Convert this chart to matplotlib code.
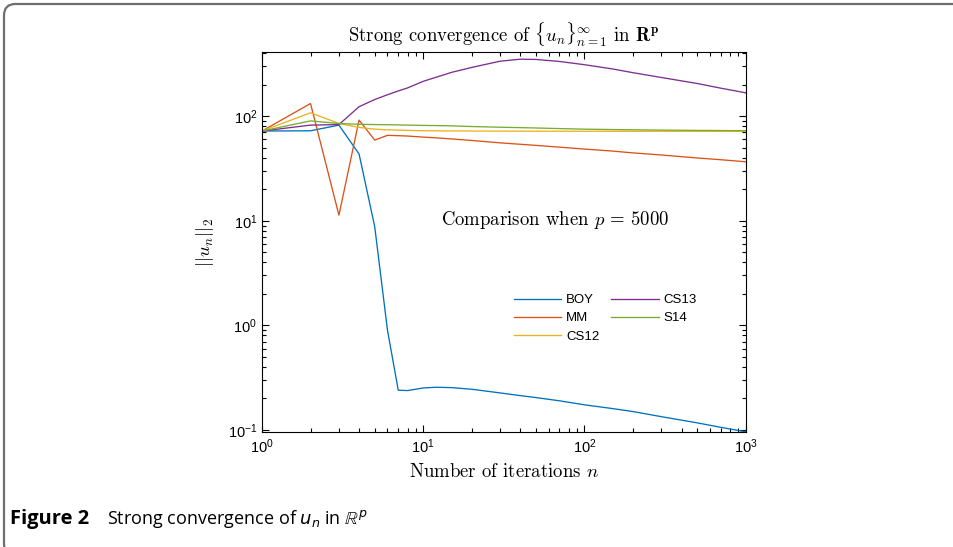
import matplotlib
matplotlib.use("Agg")
import matplotlib.pyplot as plt
from matplotlib.patches import FancyBboxPatch

plt.rcParams['font.family'] = ['Liberation Sans', 'DejaVu Sans']
plt.rcParams['mathtext.fontset'] = 'cm'

# iterations where the norm was sampled
n_pts = [1, 2, 3, 4, 5, 6, 7, 8, 10, 12, 15, 20, 30, 40, 50, 70, 100, 150, 200, 300, 500, 700, 1000]

boy = [72, 72.4, 82, 43.4, 8.8, 0.90, 0.240, 0.238, 0.252, 0.256, 0.254, 0.245, 0.226, 0.213, 0.204,
       0.19, 0.174, 0.160, 0.150, 0.134, 0.117, 0.106, 0.096]
mm = [72, 132, 11.3, 91.6, 59, 65.5, 65, 64.5, 63, 62, 60.5, 58.5, 55.5, 53.8, 52.5,
      50.5, 48.4, 46.3, 44.5, 42.5, 39.8, 38.3, 36.6]
cs12 = [72, 107.6, 85, 78, 75, 74, 73.5, 73, 72.5, 72.3, 72.2, 72, 71.9, 71.8, 71.8,
        71.7, 71.6, 71.6, 71.6, 71.6, 71.6, 71.6, 71.6]
cs13 = [72, 82, 83, 123, 144, 160, 174, 186, 215, 235, 262, 292, 335, 350, 348,
        333, 310, 282, 260, 234, 205, 185, 167]
s14 = [72, 90, 85, 83.5, 83, 82.7, 82.4, 82, 81.5, 81.2, 80.7, 79.5, 78.3, 77.6, 77,
       76, 75, 74.4, 74, 73.5, 73, 72.8, 72.5]

labels = ['BOY', 'MM', 'CS12', 'CS13', 'S14']
colors = ['#0072BD', '#D95319', '#EDB120', '#7E2F8E', '#77AC30']

fig = plt.figure(figsize=(9.54, 5.47), dpi=100)

# outer panel frame (runs off the right and bottom edges)
frame = FancyBboxPatch((4 / 954, -8 / 547), 1.02, 551 / 547, boxstyle="round,pad=0,rounding_size=0.012",
                       transform=fig.transFigure, facecolor='none', edgecolor='#6e6e6e', lw=1.6,
                       mutation_aspect=954 / 547, clip_on=False)
fig.patches.append(frame)

ax = fig.add_axes([262 / 954, 114.7 / 547, 483.7 / 954, 380.3 / 547])
for y, lab, c in zip([boy, mm, cs12, cs13, s14], labels, colors):
    ax.plot(n_pts, y, color=c, lw=0.95, label=lab)

ax.set_xscale('log')
ax.set_yscale('log')
ax.set_xlim(1, 1000)
ax.set_ylim(0.095, 410)
ax.tick_params(which='both', direction='in', top=True, right=True, labelsize=10.5, width=0.8)
ax.tick_params(which='major', length=5)
ax.tick_params(which='minor', length=3)
for s in ax.spines.values():
    s.set_linewidth(0.8)

ax.set_title(r"Strong convergence of $\{u_n\}_{n=1}^{\infty}$ in $\mathbf{R^p}$",
             fontfamily='cmr10', fontsize=13.5, pad=7)
ax.set_xlabel(r"Number of iterations $n$", fontfamily='cmr10', fontsize=13.5, labelpad=5)
ax.set_ylabel(r"$||u_n||_2$", fontsize=13.5, labelpad=8)
ax.text(0.606, 0.558, r"Comparison when $p\,=\,5000$", transform=ax.transAxes,
        fontfamily='cmr10', fontsize=13.5, ha='center', va='center')

ax.legend(ncol=2, frameon=False, loc='upper left', bbox_to_anchor=(514 / 954, 1 - 294 / 547),
          bbox_transform=fig.transFigure, borderpad=0, borderaxespad=0, fontsize=9.5,
          handlelength=3.6, handletextpad=0.35, columnspacing=0.9, labelspacing=0.45)

fig.text(10 / 954, 1 - 524 / 547, "Figure 2", fontfamily='Open Sans', fontweight='bold',
         fontsize=14.5, va='baseline')
fig.text(107 / 954, 1 - 524 / 547, r"Strong convergence of $u_n$ in $\mathbb{R}^p$",
         fontfamily=['Open Sans', 'DejaVu Sans'], math_fontfamily='dejavusans',
         fontsize=13, va='baseline')

fig.savefig("out.png", dpi=100)
